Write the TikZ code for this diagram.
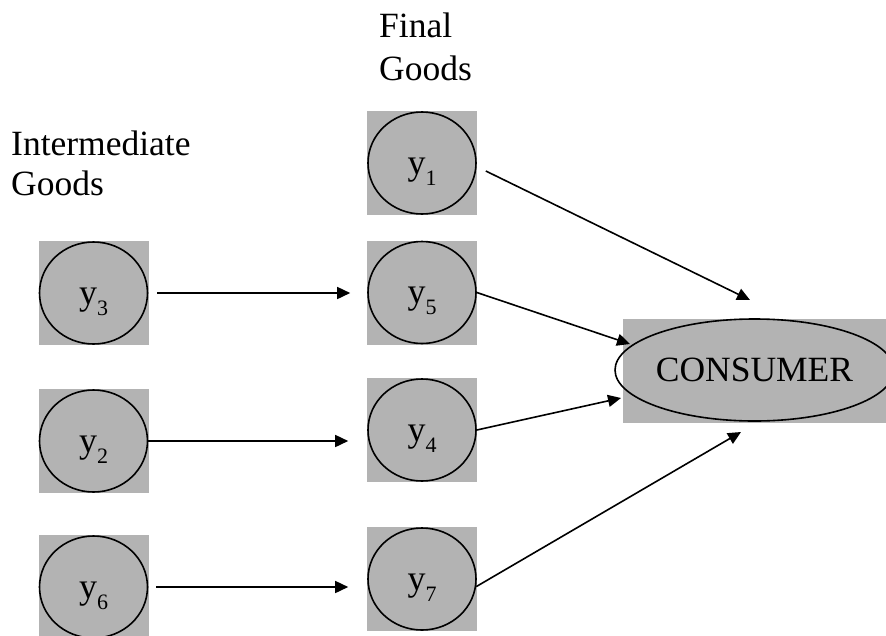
\documentclass[tikz,border=0pt]{standalone}
\usepackage{fontspec}
\setmainfont{Liberation Serif}
\usetikzlibrary{shapes.geometric,arrows.meta}
\definecolor{boxgray}{RGB}{179,179,179}
\newcommand{\yy}[1]{y\raisebox{-11pt}{\fontsize{22}{22}\selectfont #1}}
\begin{document}
\begin{tikzpicture}[x=1pt,y=-1pt,
  box/.style={fill=boxgray, draw=none, minimum width=110pt, minimum height=104pt, inner sep=0pt},
  good/.style={ellipse, draw, line width=1.6pt, minimum width=108pt, minimum height=102pt, inner sep=0pt,
    font=\fontsize{36}{40}\selectfont, text height=22pt, text depth=0pt},
  flow/.style={line width=1.6pt, -{Triangle[length=13pt,width=12pt]}},
  lbl/.style={font=\fontsize{35.5}{40}\selectfont, inner sep=0pt, anchor=base west}]
\useasboundingbox (0,0) rectangle (886,635);
\clip (0,0) rectangle (886,635);

% boxes
\node[box] (b1) at (422,163) {};
\node[box] (b5) at (422,292.5) {};
\node[box] (b4) at (422,430) {};
\node[box] (b7) at (422,579) {};
\node[box] (b3) at (94,293) {};
\node[box] (b2) at (94,441) {};
\node[box] (b6) at (94,587) {};
\node[box, minimum width=263pt] (bc) at (754.5,371) {};

% goods
\node[good] (y1) at (422,163) {\yy{1}};
\node[good] (y5) at (422,292.5) {\yy{5}};
\node[good] (y4) at (422,430) {\yy{4}};
\node[good] (y7) at (422,579) {\yy{7}};
\node[good] (y3) at (93.5,293) {\yy{3}};
\node[good] (y2) at (93.5,441) {\yy{2}};
\node[good] (y6) at (93.5,587) {\yy{6}};
\node[ellipse, draw, line width=1.6pt, minimum width=262pt, minimum height=102pt, inner sep=0pt,
  font=\fontsize{35.5}{40}\selectfont] (cons) at (754.5,370) {CONSUMER};

% labels
\node[lbl] (fin1) at (379,37) {Final};
\node[lbl] (fin2) at (379,80) {Goods};
\node[lbl] (int1) at (11,155) {Intermediate};
\node[lbl] (int2) at (11,195) {Goods};

% tips at consumer
\coordinate (t1) at (750,300);
\coordinate (t2) at (630,344);
\coordinate (t3) at (621,398);
\coordinate (t4) at (741,432);

% connectors
\draw[flow, shorten <=9pt, shorten >=17pt] (y3.east) -- (y3.east -| y5.west);
\draw[flow, shorten >=19pt] (y2.east) -- (y2.east -| y4.west);
\draw[flow, shorten <=8pt, shorten >=19pt] (y6.east) -- (y6.east -| y7.west);

\draw[flow] ([shift={(9,8)}]y1.east) -- (t1);
\draw[flow] (y5.east) -- (t2);
\draw[flow] (y4.east) -- (t3);
\draw[flow] (y7.-8) -- (t4);
\end{tikzpicture}
\end{document}
